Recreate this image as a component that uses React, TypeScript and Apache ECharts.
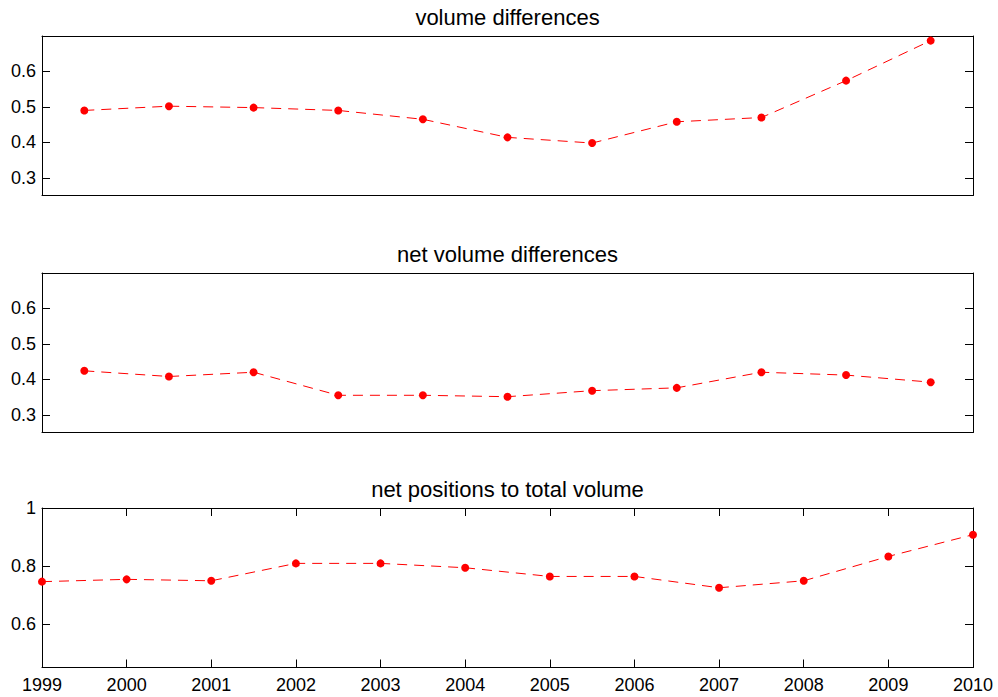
import React, { useEffect, useRef } from "react";
import * as echarts from "echarts";

const years = [1999, 2000, 2001, 2002, 2003, 2004, 2005, 2006, 2007, 2008, 2009, 2010];
const midYears = [1999.5, 2000.5, 2001.5, 2002.5, 2003.5, 2004.5, 2005.5, 2006.5, 2007.5, 2008.5, 2009.5];
const volumeDiff = [0.49, 0.502, 0.498, 0.49, 0.465, 0.414, 0.398, 0.458, 0.47, 0.574, 0.687];
const netVolumeDiff = [0.424, 0.408, 0.42, 0.355, 0.355, 0.351, 0.368, 0.376, 0.42, 0.412, 0.392];
const netPositions = [0.746, 0.754, 0.749, 0.809, 0.809, 0.794, 0.764, 0.764, 0.725, 0.749, 0.833, 0.908];
const titles = ["volume differences", "net volume differences", "net positions to total volume"];
const yTicksTop = [0.3, 0.4, 0.5, 0.6];
const yTicksBottom = [0.6, 0.8, 1];
const yRanges = [
  [0.25, 0.7],
  [0.25, 0.7],
  [0.45, 1],
];

const FONT = "'Liberation Sans', Arial, Helvetica, sans-serif";
const gridTops = [36, 273, 508];
const gridLeft = 42;
const gridWidth = 931;
const gridHeight = 159.5;

const fmt = (v: number) => String(+(+v).toFixed(2));

export default function App() {
  const ref = useRef<HTMLDivElement>(null);
  useEffect(() => {
    document.body.style.margin = "0";
    const chart = echarts.init(ref.current!, undefined, { renderer: "svg" });
    const grids: any[] = [];
    const xAxes: any[] = [];
    const yAxes: any[] = [];
    const series: any[] = [];
    const graphics: any[] = [];
    const datasets = [
      { xs: midYears, ys: volumeDiff },
      { xs: midYears, ys: netVolumeDiff },
      { xs: years, ys: netPositions },
    ];
    for (let i = 0; i < 3; i++) {
      grids.push({ left: gridLeft, top: gridTops[i], width: gridWidth, height: gridHeight });
      const showX = i === 2;
      const xBase = {
        type: "value",
        gridIndex: i,
        min: 1999,
        max: 2010,
        interval: 1,
        axisLine: { show: true, onZero: false, lineStyle: { color: "#000", width: 1 } },
        axisTick: { show: showX, inside: true, length: 8, lineStyle: { color: "#000" } },
        splitLine: { show: false },
      };
      xAxes.push({
        ...xBase,
        position: "bottom",
        axisLabel: {
          show: showX,
          margin: 8,
          color: "#000",
          fontSize: 18,
          fontFamily: FONT,
          formatter: (v: number) => String(v),
        },
      });
      xAxes.push({ ...xBase, position: "top", axisLabel: { show: false } });
      const ticks = i === 2 ? yTicksBottom : yTicksTop;
      const yBase = {
        type: "value",
        gridIndex: i,
        min: yRanges[i][0],
        max: yRanges[i][1],
        axisLine: { show: true, onZero: false, lineStyle: { color: "#000", width: 1 } },
        axisTick: { show: true, inside: true, length: 8, customValues: ticks, lineStyle: { color: "#000" } },
        splitLine: { show: false },
      };
      yAxes.push({
        ...yBase,
        position: "left",
        axisLabel: {
          show: true,
          customValues: ticks,
          margin: 6,
          color: "#000",
          fontSize: 18,
          fontFamily: FONT,
          formatter: fmt,
        },
      });
      yAxes.push({ ...yBase, position: "right", axisLabel: { show: false } });
      const d = datasets[i];
      series.push({
        type: "line",
        xAxisIndex: 2 * i,
        yAxisIndex: 2 * i,
        data: d.xs.map((x, k) => [x, d.ys[k]]),
        symbol: "circle",
        symbolSize: 8,
        clip: false,
        itemStyle: { color: "#ff0000" },
        lineStyle: { color: "#ff0000", width: 1, type: [10, 7] },
      });
      graphics.push({
        type: "text",
        x: gridLeft + gridWidth / 2,
        y: gridTops[i] - 19,
        style: {
          text: titles[i],
          fill: "#000",
          font: `22px ${FONT}`,
          textAlign: "center",
          textVerticalAlign: "middle",
        },
      });
    }
    chart.setOption({
      animation: false,
      backgroundColor: "#fff",
      grid: grids,
      xAxis: xAxes,
      yAxis: yAxes,
      series,
      graphic: graphics,
    });
    return () => chart.dispose();
  }, []);
  return (
    <div
      ref={ref}
      style={{ position: "fixed", left: 0, top: 0, width: 998, height: 697, background: "#fff" }}
    />
  );
}
